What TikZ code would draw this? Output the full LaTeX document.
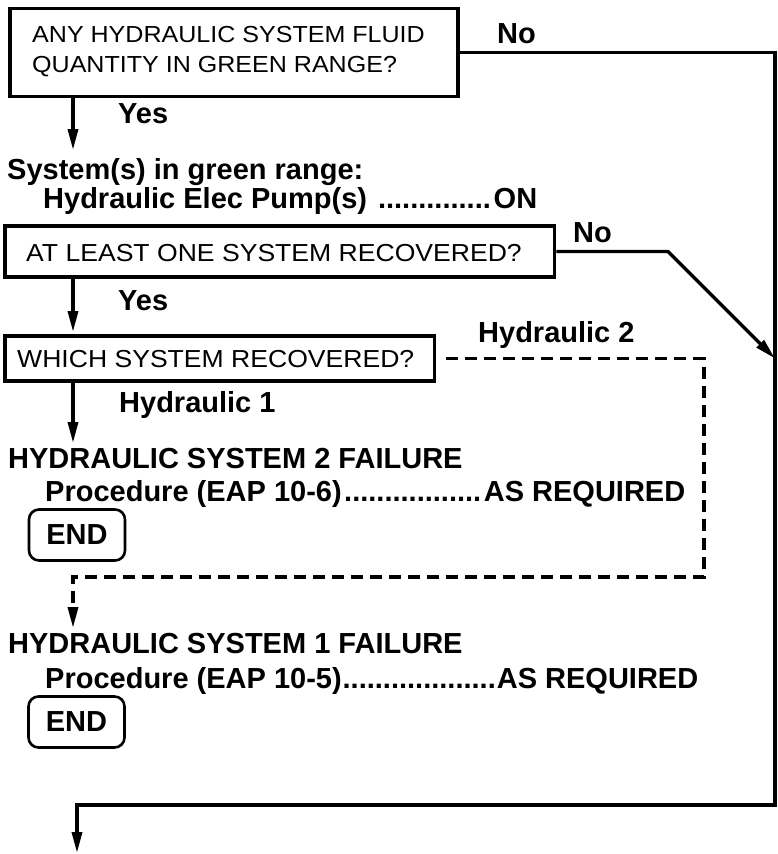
\documentclass[tikz,border=0pt]{standalone}
\usepackage{fontspec}
\setmainfont{Liberation Sans}
\newfontfamily\boxfam[FakeStretch=1.08]{Liberation Sans}
\usetikzlibrary{arrows.meta}
\newcommand\leaderline[3]{\hbox to #1{#2\cleaders\hbox{.}\hfill#3}}
\begin{document}
\begin{tikzpicture}[x=1pt,y=-1pt,
  qbox/.style={draw, line width=3.6pt, inner sep=0pt, rectangle},
  endbox/.style={draw, line width=2.6pt, rounded corners=10pt, minimum width=96pt, minimum height=51pt, inner sep=0pt, font=\fontsize{29}{34}\selectfont\bfseries},
  qtext/.style={anchor=base west, inner sep=0pt, font=\boxfam\fontsize{24.6}{30}\selectfont},
  btext/.style={anchor=base west, inner sep=0pt, font=\fontsize{29}{34}\selectfont\bfseries},
  conn/.style={line width=3.4pt},
  arr/.style={conn, -{Triangle[length=21pt,width=10pt]}},
  dsh/.style={conn, dash pattern=on 12pt off 7pt}
]
\useasboundingbox (0,0) rectangle (777,854);

% question boxes
\node[qbox, minimum width=448pt, minimum height=88pt] (box1) at (234,52.5) {};
\node[qtext, font=\boxfam\fontsize{23.2}{30}\selectfont] (q1a) at (32,42) {ANY HYDRAULIC SYSTEM FLUID};
\node[qtext, font=\boxfam\fontsize{23.2}{30}\selectfont] (q1b) at (32,72) {QUANTITY IN GREEN RANGE?};
\node[qbox, minimum width=549.5pt, minimum height=51pt] (box2) at (279.75,251.5) {};
\node[qtext] (q2) at (26,261) {AT LEAST ONE SYSTEM RECOVERED?};
\node[qbox, minimum width=429.5pt, minimum height=45pt] (box3) at (219.75,358.5) {};
\node[qtext] (q3) at (17,367) {WHICH SYSTEM RECOVERED?};

% labels and steps
\node[btext] (no1) at (497,43) {No};
\node[btext] (yes1) at (118,123) {Yes};
\node[btext] (sys) at (7,179) {System(s) in green range:};
\node[btext] (pump) at (43,208) {\leaderline{494pt}{Hydraulic Elec Pump(s) }{ON}};
\node[btext] (no2) at (573,242) {No};
\node[btext] (yes2) at (118,310) {Yes};
\node[btext] (h2) at (478,342) {Hydraulic 2};
\node[btext] (h1) at (119,412) {Hydraulic 1};
\node[btext] (f2) at (8,468) {HYDRAULIC SYSTEM 2 FAILURE};
\node[btext] (p2) at (45,501) {\leaderline{640pt}{Procedure (EAP 10-6)}{AS REQUIRED}};
\node[endbox] (e1) at (77,535) {END};
\node[btext] (f1) at (8,653) {HYDRAULIC SYSTEM 1 FAILURE};
\node[btext] (p1) at (45,688) {\leaderline{653pt}{Procedure (EAP 10-5)}{AS REQUIRED}};
\node[endbox] (e2) at (76.5,722) {END};

% connector points
\coordinate (a1) at (73,150);
\coordinate (a2) at (73,332);
\coordinate (a3) at (73,443);
\coordinate (a4) at (73,628);
\coordinate (d1) at (704,577);
\coordinate (k) at (668,251.5);
\coordinate (hit) at (775,358.5);
\coordinate (c1) at (775,805);
\coordinate (c2) at (77,805);
\coordinate (tend) at (77,853);

% connectors
\draw[arr] (box1.south -| a1) -- (a1);
\draw[arr] (box2.south -| a2) -- (a2);
\draw[arr] (box3.south -| a3) -- (a3);
\draw[arr] (box1.east) -| (c1) -- (c2) -- (tend);
\draw[arr] (box2.east) -- (k) -- (hit);
\draw[dsh, -{Triangle[length=21pt,width=10pt]}] ([xshift=10pt]box3.east) -| (d1) -| (a4);
\end{tikzpicture}
\end{document}
